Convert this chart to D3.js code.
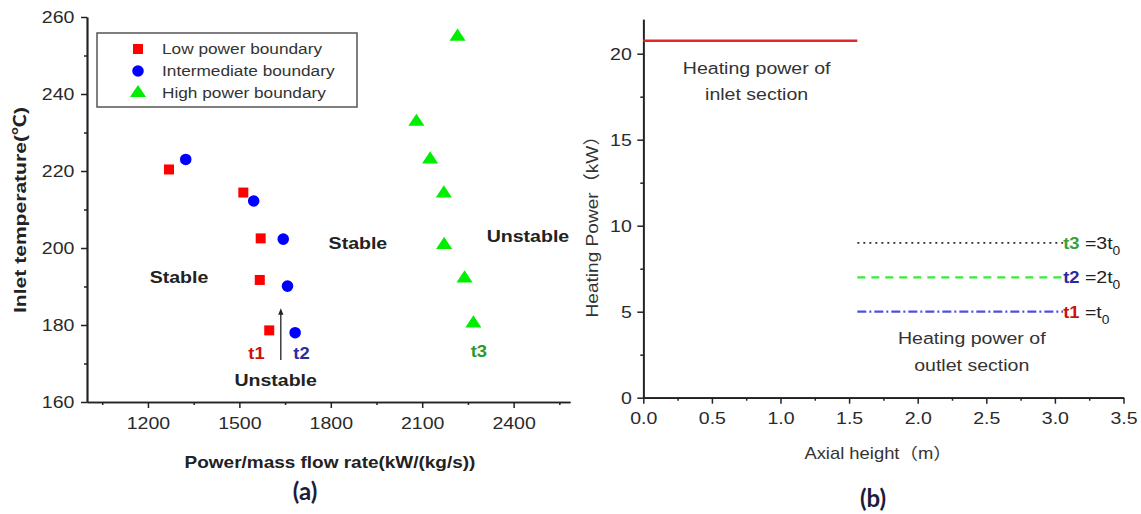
<!DOCTYPE html>
<html><head><meta charset="utf-8">
<script src="https://cdn.jsdelivr.net/npm/d3@7"></script>
<style>
body{margin:0;background:#fff}
text{font-family:"Liberation Sans",Arial,"Noto Sans CJK SC",sans-serif}
</style>
</head><body>
<svg id="c" width="1141" height="514"></svg>
<script>
// ---- Panel (a) data ----
const lowX  = [1269, 1513, 1570, 1567, 1598];
const lowY  = [220.4, 214.4, 202.5, 191.7, 178.6];
const midX  = [1324, 1547, 1644, 1658, 1683];
const midY  = [223.0, 212.2, 202.3, 190.1, 178.0];
const highX = [2216, 2081, 2126, 2171, 2172, 2239, 2268];
const highY = [254.9, 232.8, 223.0, 214.2, 200.8, 192.1, 180.4];
const legendLabels = ["Low power boundary", "Intermediate boundary", "High power boundary"];
const aXTicks = [1200, 1500, 1800, 2100, 2400];
const aXMinor = [1050, 1350, 1650, 1950, 2250, 2550];
const aYTicks = [160, 180, 200, 220, 240, 260];
const aYMinor = [170, 190, 210, 230, 250];

// ---- Panel (b) data ----
const inletX = [0, 1.56];
const inletPower = 20.75;
const outletX = [1.56, 3.06];
const outletPower = [9, 7, 5];
const outletNames = ["t3", "t2", "t1"];
const outletMult = ["=3t", "=2t", "=t"];
const bXTicks = [0, 0.5, 1.0, 1.5, 2.0, 2.5, 3.0, 3.5];
const bXMinor = [0.25, 0.75, 1.25, 1.75, 2.25, 2.75, 3.25];
const bYTicks = [0, 5, 10, 15, 20];
const bYMinor = [2.5, 7.5, 12.5, 17.5];

const SX = 1.15; // horizontal text stretch seen in the reference
const svg = d3.select("#c");

function label(g, x, y, s, o = {}) {
  return g.append("text")
    .attr("transform", `translate(${x},${y}) scale(${SX},1)`)
    .attr("text-anchor", o.anchor || "middle")
    .attr("dy", o.dy || "0.35em")
    .attr("font-size", o.size || 17)
    .attr("font-weight", o.weight || "normal")
    .attr("fill", o.fill || "#222")
    .text(s);
}

function styleAxis(g) {
  g.select(".domain").attr("stroke", "#222").attr("stroke-width", 1.7);
  g.selectAll(".tick line").attr("stroke", "#222").attr("stroke-width", 1.5);
  g.selectAll(".tick text").attr("transform", `scale(${SX},1)`)
    .attr("font-size", 17).attr("fill", "#2a2a2a")
    .style("font-family", '"Liberation Sans",Arial,sans-serif');
}

// ================= Panel (a) =================
const ax = d3.scaleLinear().domain([1000, 2585]).range([87, 570]);
const ay = d3.scaleLinear().domain([160, 260]).range([402, 17]);
const ga = svg.append("g");

const gaY = ga.append("g").attr("transform", `translate(${ax(1000)},0)`)
  .call(d3.axisLeft(ay).tickValues(aYTicks).tickFormat(d3.format("d")).tickSize(6).tickSizeOuter(0).tickPadding(5));
styleAxis(gaY);
const gaYm = ga.append("g").attr("transform", `translate(${ax(1000)},0)`)
  .call(d3.axisLeft(ay).tickValues(aYMinor).tickFormat("").tickSize(3).tickSizeOuter(0));
styleAxis(gaYm);
const gaX = ga.append("g").attr("transform", `translate(0,${ay(160)})`)
  .call(d3.axisBottom(ax).tickValues(aXTicks).tickFormat(d3.format("d")).tickSize(6).tickSizeOuter(0).tickPadding(9));
styleAxis(gaX);
const gaXm = ga.append("g").attr("transform", `translate(0,${ay(160)})`)
  .call(d3.axisBottom(ax).tickValues(aXMinor).tickFormat("").tickSize(3).tickSizeOuter(0));
styleAxis(gaXm);

// points
const sq = d3.symbol().type(d3.symbolSquare).size(100);
const ci = d3.symbol().type(d3.symbolCircle).size(105);
const tr = d3.symbol().type(d3.symbolTriangle).size(85);
ga.selectAll(".low").data(lowX).join("path")
  .attr("d", sq).attr("fill", "#ff0000")
  .attr("transform", (d, i) => `translate(${ax(d)},${ay(lowY[i])})`);
ga.selectAll(".mid").data(midX).join("path")
  .attr("d", ci).attr("fill", "#0000ff")
  .attr("transform", (d, i) => `translate(${ax(d)},${ay(midY[i])})`);
ga.selectAll(".high").data(highX).join("path")
  .attr("d", tr).attr("fill", "#00ee00")
  .attr("transform", (d, i) => `translate(${ax(d)},${ay(highY[i])}) scale(1.15,1)`);

// legend
const lg = ga.append("g");
lg.append("rect").attr("x", 97).attr("y", 33).attr("width", 260).attr("height", 74)
  .attr("fill", "#fff").attr("stroke", "#555").attr("stroke-width", 1.5);
const legSyms = [[sq, "#ff0000"], [ci, "#0000ff"], [tr, "#00ee00"]];
legendLabels.forEach((t, i) => {
  const yy = 49 + i * 22;
  lg.append("path").attr("d", legSyms[i][0]).attr("fill", legSyms[i][1])
    .attr("transform", `translate(138,${yy}) scale(${i===2?1.15:1},1)`);
  label(lg, 162, yy, t, {anchor: "start", size: 15, fill: "#333"});
});

// annotations (data space)
label(ga, ax(1302), ay(192.5), "Stable", {weight: "bold", fill: "#222"});
label(ga, ax(1889), ay(201.3), "Stable", {weight: "bold", fill: "#222"});
label(ga, ax(2447), ay(203.1), "Unstable", {weight: "bold", fill: "#222"});
label(ga, ax(1619), ay(165.7), "Unstable", {weight: "bold", fill: "#222"});
label(ga, ax(1556), ay(172.5), "t1", {size: 16, weight: "bold", fill: "#cc1111"});
label(ga, ax(1704), ay(172.5), "t2", {size: 16, weight: "bold", fill: "#2a2aa0"});
label(ga, ax(2286), ay(173.1), "t3", {size: 16, weight: "bold", fill: "#2a9a2a"});
svg.append("defs").append("marker").attr("id", "ah").attr("viewBox", "0 0 10 10")
  .attr("refX", 5).attr("refY", 5).attr("markerWidth", 5).attr("markerHeight", 7).attr("orient", "auto")
  .append("path").attr("d", "M0,1 L10,5 L0,9 Z").attr("fill", "#222");
ga.append("line").attr("x1", ax(1636)).attr("x2", ax(1636)).attr("y1", ay(170.9)).attr("y2", ay(183.5))
  .attr("stroke", "#222").attr("stroke-width", 1.3).attr("marker-end", "url(#ah)");

// titles
ga.append("text").attr("transform", "translate(26,210) rotate(-90)")
  .attr("text-anchor", "middle").attr("font-size", 17).attr("font-weight", "bold").attr("fill", "#222")
  .attr("textLength", 206).attr("lengthAdjust", "spacingAndGlyphs")
  .text("Inlet temperature(℃)");
label(ga, 330, 462, "Power/mass flow rate(kW/(kg/s))", {weight: "bold", size: 16.5});
ga.append("text").attr("x", 305).attr("y", 492).attr("dy", "0.35em").attr("text-anchor", "middle")
  .attr("font-size", 24).attr("font-weight", "bold").attr("fill", "#1c1c3a")
  .style("font-family", "Lato, 'Open Sans', sans-serif").text("(a)");

// ================= Panel (b) =================
const bx = d3.scaleLinear().domain([0, 3.5]).range([643.3, 1123.5]);
const by = d3.scaleLinear().domain([0, 22]).range([397.7, 19.3]);
const gb = svg.append("g");

const gbY = gb.append("g").attr("transform", `translate(${bx(0)},0)`)
  .call(d3.axisLeft(by).tickValues(bYTicks).tickFormat(d3.format("d")).tickSize(6).tickSizeOuter(0).tickPadding(4));
styleAxis(gbY);
const gbYm = gb.append("g").attr("transform", `translate(${bx(0)},0)`)
  .call(d3.axisLeft(by).tickValues(bYMinor).tickFormat("").tickSize(3).tickSizeOuter(0));
styleAxis(gbYm);
const gbX = gb.append("g").attr("transform", `translate(0,${by(0)})`)
  .call(d3.axisBottom(bx).tickValues(bXTicks).tickFormat(d3.format(".1f")).tickSize(6).tickSizeOuter(0).tickPadding(8));
styleAxis(gbX);
const gbXm = gb.append("g").attr("transform", `translate(0,${by(0)})`)
  .call(d3.axisBottom(bx).tickValues(bXMinor).tickFormat("").tickSize(3).tickSizeOuter(0));
styleAxis(gbXm);

const line = d3.line().x(d => bx(d[0])).y(d => by(d[1]));
gb.append("path").attr("d", line(inletX.map(x => [x, inletPower])))
  .attr("stroke", "#e02828").attr("stroke-width", 2.6).attr("fill", "none");

const styles = [
  {c: "#333", w: 1.6, dash: "2,4"},
  {c: "#33ee33", w: 2.2, dash: "8,6"},
  {c: "#5050dd", w: 2.2, dash: "9,3,2,3"}
];
const tColors = ["#3aa03a", "#2a2aa0", "#cc1111"];
outletPower.forEach((p, i) => {
  gb.append("path").attr("d", line(outletX.map(x => [x, p])))
    .attr("stroke", styles[i].c).attr("stroke-width", styles[i].w)
    .attr("stroke-dasharray", styles[i].dash).attr("fill", "none");
  const t = gb.append("text")
    .attr("transform", `translate(${bx(outletX[1])},${by(p)}) scale(${SX},1)`)
    .attr("dy", "0.35em").attr("font-size", 17).attr("fill", "#222");
  t.append("tspan").attr("fill", tColors[i]).attr("font-size", 16).attr("font-weight", "bold").text(outletNames[i]);
  t.append("tspan").text(" " + outletMult[i]);
  t.append("tspan").attr("font-size", 12).attr("dy", 6).text("0");
});

label(gb, bx(0.826), by(19.15), "Heating power of", {fill: "#333"});
label(gb, bx(0.826), by(17.64), "inlet section", {fill: "#333"});
label(gb, bx(2.394), by(3.47), "Heating power of", {fill: "#333"});
label(gb, bx(2.394), by(1.90), "outlet section", {fill: "#333"});

gb.append("text").attr("transform", "translate(592,222) rotate(-90)")
  .attr("text-anchor", "middle").attr("dy", "0.35em").attr("font-size", 17).attr("fill", "#333")
  .attr("textLength", 191).attr("lengthAdjust", "spacingAndGlyphs")
  .text("Heating Power（kW）");
label(gb, 878, 453, "Axial height（m）", {fill: "#333", size: 16});
gb.append("text").attr("x", 873).attr("y", 499).attr("dy", "0.35em").attr("text-anchor", "middle")
  .attr("font-size", 24).attr("font-weight", "bold").attr("fill", "#1c1c3a")
  .style("font-family", "Lato, 'Open Sans', sans-serif").text("(b)");
</script>
</body></html>
